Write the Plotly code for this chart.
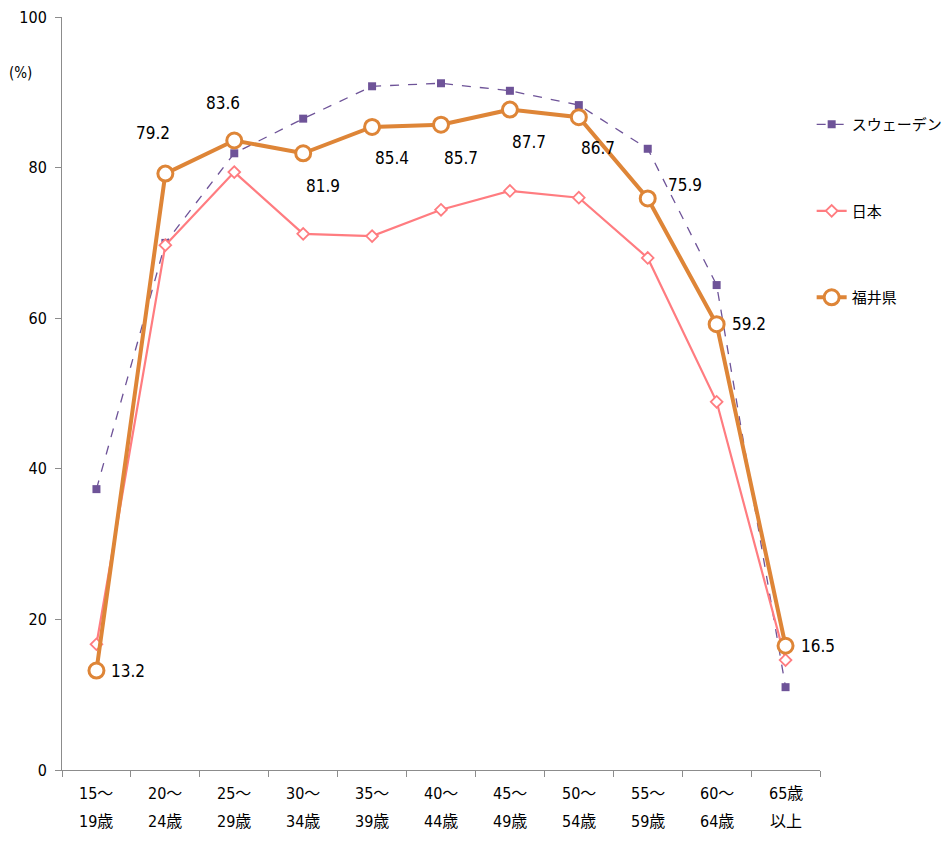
import plotly.graph_objects as go

# Age groups (two-line category labels)
age_top = ["15～", "20～", "25～", "30～", "35～", "40～", "45～", "50～", "55～", "60～", "65歳"]
age_bottom = ["19歳", "24歳", "29歳", "34歳", "39歳", "44歳", "49歳", "54歳", "59歳", "64歳", "以上"]
categories = [f"{a}{b}" for a, b in zip(age_top, age_bottom)]

# Labour force participation rate of women (%)
sweden = [37.3, 70.0, 81.9, 86.5, 90.8, 91.2, 90.2, 88.3, 82.5, 64.4, 11.0]
japan = [16.7, 69.7, 79.4, 71.2, 70.9, 74.4, 76.9, 76.0, 68.0, 48.9, 14.6]
fukui = [13.2, 79.2, 83.6, 81.9, 85.4, 85.7, 87.7, 86.7, 75.9, 59.2, 16.5]

# Placement of the value labels for the Fukui series (anchor, pixel offsets)
label_anchor = ["left", "center", "center", "center", "center", "center", "center", "center", "left", "left", "left"]
label_dx = [13, -12, -11, 20, 20, 20, 19, 19, 18, 13, 13]
label_dy = [0, 41, 37, -33, -31, -33, -32, -31, 13, 0, 0]

FONT = "Liberation Sans Narrow, DejaVu Sans Condensed, Noto Sans CJK JP, sans-serif"
PURPLE = "#6E5398"
PINK = "#FF7C80"
ORANGE = "#DE8537"

fig = go.Figure()

fig.add_trace(go.Scatter(
    x=categories, y=sweden, name="スウェーデン", mode="lines+markers",
    line=dict(color=PURPLE, width=1.3, dash="dash"),
    marker=dict(symbol="square", size=8, color=PURPLE),
    legendgroup="s",
))
fig.add_trace(go.Scatter(
    x=categories, y=japan, name="日本", mode="lines+markers",
    line=dict(color=PINK, width=2.2),
    marker=dict(symbol="diamond", size=9, color="white", line=dict(color=PINK, width=1.8)),
    legendgroup="j",
))
fig.add_trace(go.Scatter(
    x=categories, y=fukui, name="福井県", mode="lines+markers",
    line=dict(color=ORANGE, width=4),
    marker=dict(symbol="circle", size=15, color="white", line=dict(color=ORANGE, width=3)),
    legendgroup="f",
))

annotations = []
for c, v, anc, dx, dy in zip(categories, fukui, label_anchor, label_dx, label_dy):
    annotations.append(dict(
        x=c, y=v, xref="x", yref="y", text=f"{v:.1f}", showarrow=False,
        xanchor=anc, xshift=dx, yshift=dy, font=dict(family=FONT, size=17, color="#000"),
    ))

# Category labels drawn in two rows beneath the axis
for c, t, b in zip(categories, age_top, age_bottom):
    annotations.append(dict(x=c, y=0, xref="x", yref="paper", text=t, showarrow=False,
                            yshift=-35, font=dict(family=FONT, size=16, color="#000")))
    annotations.append(dict(x=c, y=0, xref="x", yref="paper", text=b, showarrow=False,
                            yshift=-63, font=dict(family=FONT, size=16, color="#000")))

annotations.append(dict(x=0, y=1, xref="paper", yref="paper", text="(%)", showarrow=False,
                        xanchor="center", xshift=-42, yshift=-45,
                        font=dict(family=FONT, size=15, color="#000")))

fig.update_layout(
    width=947, height=850,
    margin=dict(l=62, r=127, t=17, b=80, autoexpand=False),
    plot_bgcolor="white", paper_bgcolor="white",
    font=dict(family=FONT, size=16, color="#000"),
    showlegend=True,
    legend=dict(x=0.989, xanchor="left", y=0.879, yanchor="top",
                tracegroupgap=64, font=dict(family=FONT, size=15, color="#000"),
                bgcolor="rgba(0,0,0,0)", itemwidth=30),
    annotations=annotations,
)
fig.update_xaxes(
    type="category", range=[-0.5, len(categories) - 0.5],
    showticklabels=False, ticks="outside", tickson="boundaries",
    ticklen=6, tickcolor="#8C8C8C", showline=True, linecolor="#8C8C8C", linewidth=1,
    showgrid=False, zeroline=False,
)
fig.update_yaxes(
    range=[0, 100], dtick=20, ticks="outside", ticklen=6, tickcolor="#8C8C8C",
    showline=True, linecolor="#8C8C8C", linewidth=1, showgrid=False, zeroline=False,
    tickfont=dict(family=FONT, size=16, color="#000"), ticklabelstandoff=5,
)

fig.write_html("out.html")
